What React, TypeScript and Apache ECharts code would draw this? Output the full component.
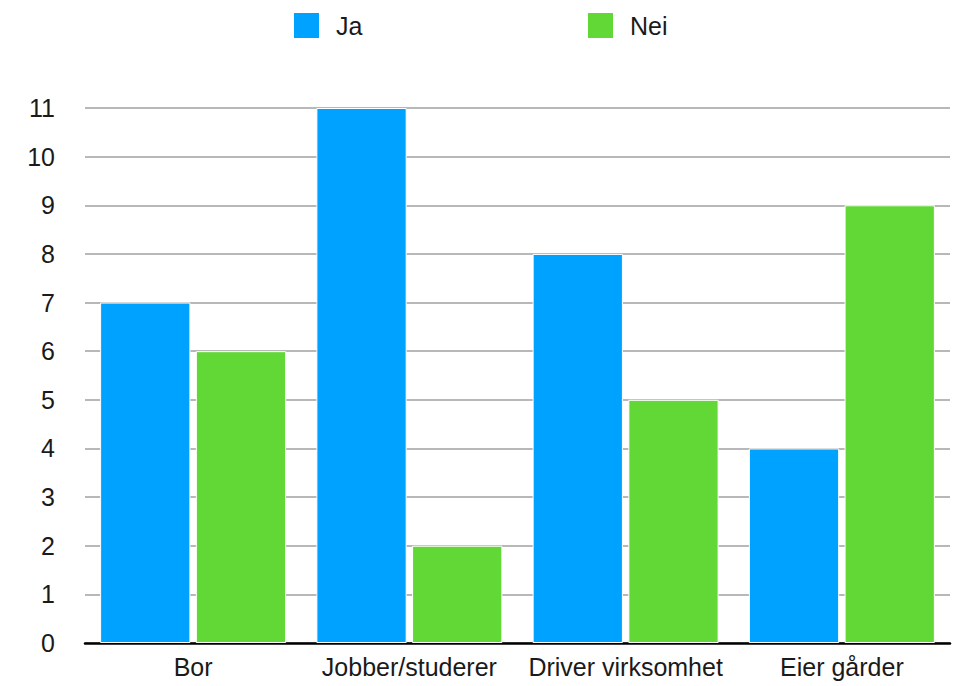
import React, { useEffect, useRef } from "react";
import * as echarts from "echarts";

const categories = ["Bor", "Jobber/studerer", "Driver virksomhet", "Eier gårder"];
const jaValues = [7, 11, 8, 4];
const neiValues = [6, 2, 5, 9];
const seriesNames = ["Ja", "Nei"];
const colors = ["#00A2FF", "#61D836"];

const FONT = "'Liberation Sans', Helvetica, Arial, sans-serif";

export default function App() {
  const ref = useRef<HTMLDivElement>(null);
  useEffect(() => {
    if (!ref.current) return;
    const chart = echarts.init(ref.current, null, { renderer: "svg" });
    const legendCommon = {
      itemWidth: 27,
      itemHeight: 27,
      icon: "rect",
      top: 6,
      textStyle: { fontSize: 25, color: "#1a1a1a", fontFamily: FONT, padding: [0, 0, 0, 11] },
    };
    chart.setOption({
      animation: false,
      backgroundColor: "#ffffff",
      textStyle: { fontFamily: FONT },
      legend: [
        { ...legendCommon, data: [seriesNames[0]], left: 287 },
        { ...legendCommon, data: [seriesNames[1]], left: 581 },
      ],
      grid: { left: 85, right: 5, top: 108, bottom: 43, containLabel: false },
      xAxis: {
        type: "category",
        data: categories,
        axisLine: { show: true, lineStyle: { color: "#000000", width: 2.5 } },
        axisTick: { show: false },
        axisLabel: { fontSize: 25, color: "#1a1a1a", margin: 11, fontFamily: FONT, interval: 0 },
      },
      yAxis: {
        type: "value",
        min: 0,
        max: 11,
        interval: 1,
        axisLine: { show: false },
        axisTick: { show: false },
        axisLabel: { fontSize: 25, color: "#1a1a1a", margin: 30, fontFamily: FONT },
        splitLine: { show: true, lineStyle: { color: "#b8b8b8", width: 2 } },
      },
      series: [
        {
          name: seriesNames[0],
          type: "bar",
          data: jaValues,
          itemStyle: { color: colors[0], borderColor: "#ffffff", borderWidth: 1 },
          barGap: "6%",
          barCategoryGap: "14%",
        },
        {
          name: seriesNames[1],
          type: "bar",
          data: neiValues,
          itemStyle: { color: colors[1], borderColor: "#ffffff", borderWidth: 1 },
          barGap: "6%",
          barCategoryGap: "14%",
        },
      ],
    });
    return () => chart.dispose();
  }, []);
  return <div ref={ref} style={{ width: 955, height: 686, position: "absolute", left: 0, top: 0 }} />;
}
